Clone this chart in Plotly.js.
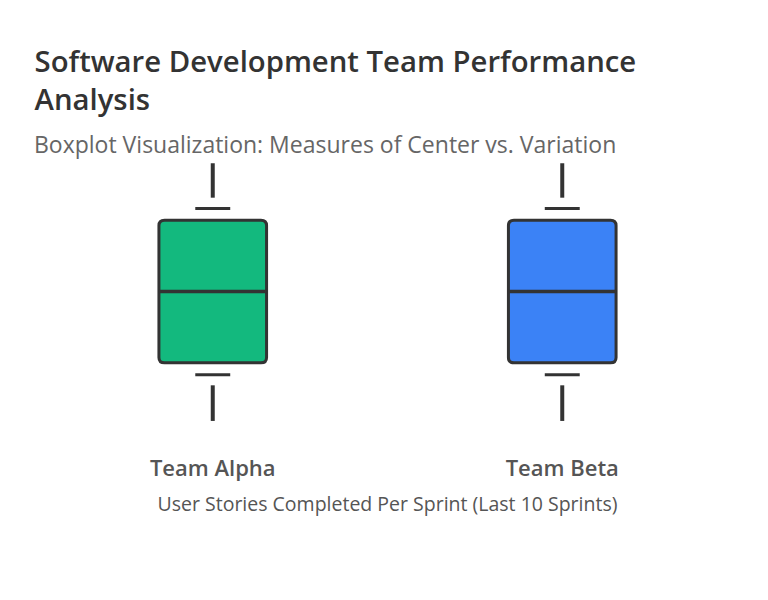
<!DOCTYPE html>
<html>
<head>
<meta charset="utf-8">
<script src="https://cdn.plot.ly/plotly-3.0.1.min.js"></script>
<style>html,body{margin:0;padding:0;background:#fff;}#chart{width:768px;height:600px;}</style>
</head>
<body>
<div id="chart"></div>
<script>
// ---- data ----
const teams = ["Team Alpha", "Team Beta"];
const teamPos = [0, 1];
const q1 = [12, 12];
const median = [18, 18];
const q3 = [24, 24];
const lowerCap = [11, 11];
const upperCap = [25, 25];
const minVal = [7.1, 7.1];
const maxVal = [28.8, 28.8];
const fillColors = ["#13b97e", "#3b82f6"];

// ---- style ----
const ink = "#333333";
const boxHalf = 0.154;
const capHalf = 0.05;
const whiskerGap = 0.9;
const rx = 0.016, ry = 0.45;

const shapes = [];
const traces = [];
teams.forEach((t, i) => {
  const c = teamPos[i];
  const x0 = c - boxHalf, x1 = c + boxHalf, y0 = q1[i], y1 = q3[i];
  const path = `M ${x0+rx},${y1} L ${x1-rx},${y1} Q ${x1},${y1} ${x1},${y1-ry} L ${x1},${y0+ry} Q ${x1},${y0} ${x1-rx},${y0} L ${x0+rx},${y0} Q ${x0},${y0} ${x0},${y0+ry} L ${x0},${y1-ry} Q ${x0},${y1} ${x0+rx},${y1} Z`;
  shapes.push({type: "path", xref: "x", yref: "y", path: path, fillcolor: fillColors[i], line: {color: ink, width: 3}, layer: "above"});
  shapes.push({type: "line", xref: "x", yref: "y", x0: x0, x1: x1, y0: median[i], y1: median[i], line: {color: ink, width: 3.5}, layer: "above"});
  // whiskers
  traces.push({type: "scatter", mode: "lines", x: [c, c, null, c, c], y: [maxVal[i], upperCap[i] + whiskerGap, null, lowerCap[i] - whiskerGap, minVal[i]],
    line: {color: ink, width: 4}, hoverinfo: "skip", showlegend: false, connectgaps: false});
  // caps
  traces.push({type: "scatter", mode: "lines", x: [c - capHalf, c + capHalf, null, c - capHalf, c + capHalf], y: [upperCap[i], upperCap[i], null, lowerCap[i], lowerCap[i]],
    line: {color: ink, width: 3}, hoverinfo: "skip", showlegend: false, connectgaps: false});
});

const layout = {
  width: 768, height: 600,
  paper_bgcolor: "#ffffff", plot_bgcolor: "#ffffff",
  font: {family: "Open Sans, Noto Sans, sans-serif", color: "#555"},
  margin: {l: 37.5, r: 30.5, t: 149, b: 166},
  title: {
    text: "Software Development Team Performance<br>Analysis",
    font: {size: 29.3, color: "#333", weight: 600},
    xref: "container", yref: "container", x: 0.045, xanchor: "left", y: 0.88, yanchor: "top"
  },
  annotations: [{
    text: "Boxplot Visualization: Measures of Center vs. Variation",
    xref: "paper", yref: "paper", x: -0.008, y: 1.018, xanchor: "left", yanchor: "middle",
    showarrow: false, font: {size: 23, color: "#666"}
  }],
  xaxis: {
    range: [-0.5, 1.5], tickvals: teamPos, ticktext: teams,
    tickfont: {size: 22, color: "#555", weight: 600},
    ticklabelstandoff: 19,
    showgrid: false, zeroline: false, showline: false, ticks: "", fixedrange: true,
    title: {text: "User Stories Completed Per Sprint (Last 10 Sprints)", font: {size: 19.5, color: "#555"}, standoff: 16}
  },
  yaxis: {range: [6, 30], visible: false, showgrid: false, zeroline: false, fixedrange: true},
  shapes: shapes,
  showlegend: false
};

Plotly.newPlot("chart", traces, layout, {displayModeBar: false, staticPlot: true});
</script>
</body>
</html>
